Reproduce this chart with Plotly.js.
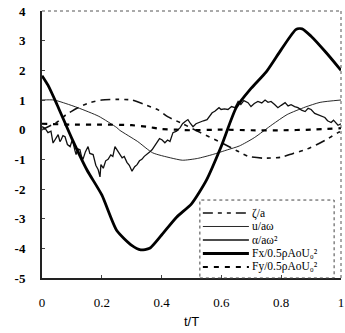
<!DOCTYPE html>
<html>
<head>
<meta charset="utf-8">
<script src="https://cdn.plot.ly/plotly-3.0.1.min.js"></script>
<style>html,body{margin:0;padding:0;background:#fff;}#chart{width:345px;height:333px;}</style>
</head>
<body>
<div id="chart"></div>
<script>
// zeta / a  (dash-dot)
var zetaT = [0, 0.05, 0.08, 0.12, 0.16, 0.2, 0.25, 0.3, 0.35, 0.39, 0.42, 0.47, 0.53, 0.6, 0.65, 0.69, 0.74, 0.8, 0.84, 0.88, 0.92, 0.95, 0.99, 1.0];
var zetaV = [0.0, 0.25, 0.5, 0.74, 0.91, 1.0, 1.02, 1.0, 0.82, 0.66, 0.44, 0.2, -0.1, -0.44, -0.7, -0.9, -0.96, -0.93, -0.8, -0.68, -0.5, -0.34, -0.1, -0.05];
// u / a omega (thin)
var uT = [0, 0.04, 0.08, 0.12, 0.19, 0.25, 0.26, 0.32, 0.37, 0.43, 0.47, 0.52, 0.57, 0.62, 0.66, 0.71, 0.77, 0.82, 0.88, 0.93, 1.0];
var uV = [1.0, 1.0, 0.88, 0.74, 0.45, 0.07, -0.02, -0.4, -0.78, -0.95, -1.03, -0.97, -0.84, -0.68, -0.55, -0.27, 0.17, 0.51, 0.76, 0.92, 1.0];
// alpha / a omega^2 (noisy thin)
var alphaT = [0, 0.01, 0.02, 0.03, 0.037, 0.045, 0.054, 0.06, 0.064, 0.07, 0.077, 0.085, 0.094, 0.1, 0.104, 0.11, 0.114, 0.12, 0.127, 0.132, 0.137, 0.145, 0.154, 0.16, 0.171, 0.18, 0.188, 0.194, 0.197, 0.205, 0.213, 0.221, 0.23, 0.237, 0.244, 0.252, 0.261, 0.268, 0.275, 0.284, 0.292, 0.301, 0.31, 0.318, 0.326, 0.334, 0.342, 0.351, 0.36, 0.368, 0.376, 0.385, 0.393, 0.401, 0.411, 0.42, 0.428, 0.438, 0.45, 0.462, 0.47, 0.478, 0.488, 0.497, 0.505, 0.515, 0.528, 0.54, 0.552, 0.56, 0.569, 0.578, 0.585, 0.592, 0.599, 0.61, 0.622, 0.634, 0.645, 0.656, 0.665, 0.675, 0.689, 0.699, 0.71, 0.722, 0.735, 0.746, 0.756, 0.766, 0.778, 0.789, 0.8, 0.813, 0.823, 0.833, 0.845, 0.856, 0.868, 0.88, 0.89, 0.9, 0.912, 0.923, 0.935, 0.946, 0.955, 0.967, 0.975, 0.98, 0.99, 1.0];
var alphaV = [0.1, 0.05, -0.1, -0.05, -0.45, -0.3, -0.17, -0.4, -0.34, -0.2, -0.24, -0.5, -0.57, -0.38, -0.44, -0.7, -0.84, -0.65, -0.68, -0.9, -1.0, -0.75, -0.57, -0.8, -0.84, -1.2, -1.35, -1.59, -1.18, -1.3, -1.05, -1.0, -0.85, -0.9, -0.57, -0.7, -0.84, -0.95, -0.9, -1.1, -1.2, -1.4, -1.25, -1.18, -1.05, -1.0, -0.9, -0.84, -0.75, -0.68, -0.55, -0.44, -0.3, -0.34, -0.44, -0.35, -0.4, -0.1, -0.05, 0.07, 0.2, 0.27, 0.34, 0.2, 0.1, 0.2, 0.24, 0.3, 0.34, 0.45, 0.57, 0.62, 0.68, 0.74, 0.68, 0.7, 0.68, 0.78, 0.74, 0.95, 0.85, 0.98, 0.91, 0.78, 0.88, 0.95, 0.9, 1.0, 0.92, 0.95, 0.85, 0.74, 0.82, 0.91, 0.8, 0.84, 0.78, 0.74, 0.66, 0.61, 0.72, 0.68, 0.55, 0.51, 0.45, 0.41, 0.3, 0.24, 0.32, 0.27, 0.15, 0.2];
// Fx / 0.5 rho A U0^2 (thick)
var fxT = [0, 0.02, 0.05, 0.1, 0.15, 0.2, 0.25, 0.3, 0.33, 0.36, 0.4, 0.45, 0.5, 0.55, 0.6, 0.65, 0.7, 0.75, 0.8, 0.85, 0.87, 0.9, 0.95, 1.0];
var fxV = [1.82, 1.5, 0.85, -0.3, -1.35, -2.2, -3.4, -3.9, -4.05, -4.0, -3.55, -2.95, -2.5, -1.7, -0.55, 0.75, 1.4, 1.95, 2.7, 3.38, 3.4, 3.15, 2.6, 2.0];
// Fy / 0.5 rho A U0^2 (dashed)
var fyT = [0, 0.1, 0.2, 0.3, 0.35, 0.4, 0.45, 0.5, 0.6, 0.7, 0.8, 0.9, 1.0];
var fyV = [0.2, 0.17, 0.17, 0.15, 0.1, 0.02, 0.0, -0.02, 0.0, -0.02, -0.02, 0.0, 0.05];

var xTicks = [0, 0.2, 0.4, 0.6, 0.8, 1];
var xTickText = ['0', '0.2', '0.4', '0.6', '0.8', '1'];
var yTicks = [-5, -4, -3, -2, -1, 0, 1, 2, 3, 4];
var yTickText = ['-5', '-4', '-3', '-2', '-1', '0', '1', '2', '3', '4'];

var names = ['ζ/a', 'u/aω', 'α/aω²', 'Fx/0.5ρAoU₀²', 'Fy/0.5ρAoU₀²'];
var ser = [[zetaT, zetaV], [uT, uV], [alphaT, alphaV], [fxT, fxV], [fyT, fyV]];
var styles = [
  {color: '#111', width: 1.6, dash: '10px,5px,4px,5px,4px,5px'},
  {color: '#111', width: 0.9, dash: 'solid'},
  {color: '#111', width: 1.3, dash: 'solid'},
  {color: '#000', width: 2.8, dash: 'solid'},
  {color: '#000', width: 2.2, dash: '5px,6px'}
];
var smooth = [true, true, false, true, true];
var data = ser.map(function (s, i) {
  var ln = Object.assign({}, styles[i]);
  if (smooth[i]) { ln.shape = 'spline'; ln.smoothing = 0.6; }
  return {x: s[0], y: s[1], name: names[i], type: 'scatter', mode: 'lines', line: ln, showlegend: false};
});

// hand-built legend (tight row spacing like the reference)
var legRowY = [0.2434, 0.1929, 0.1423, 0.0918, 0.0412];
var shapes = [
  {type: 'line', xref: 'paper', yref: 'paper', x0: 0, x1: 1, y0: 1, y1: 1, line: {color: '#555', width: 1, dash: 'dot'}},
  {type: 'line', xref: 'paper', yref: 'paper', x0: 1, x1: 1, y0: 0, y1: 1, line: {color: '#555', width: 1, dash: 'dot'}},
  {type: 'rect', xref: 'paper', yref: 'paper', x0: 0.528, x1: 0.977, y0: 0, y1: 0.292, line: {color: '#444', width: 1, dash: 'dot'}}
];
var annotations = [];
names.forEach(function (n, i) {
  shapes.push({type: 'line', xref: 'paper', yref: 'paper', x0: 0.538, x1: 0.692, y0: legRowY[i], y1: legRowY[i], line: styles[i]});
  annotations.push({xref: 'paper', yref: 'paper', x: 0.700, y: legRowY[i], xanchor: 'left', yanchor: 'middle',
    text: n, showarrow: false, borderpad: 0, font: {family: 'Liberation Serif', size: 11.5, color: '#000'}});
});

var layout = {
  width: 345, height: 333,
  margin: {l: 42, r: 4, t: 11, b: 55},
  paper_bgcolor: '#fff', plot_bgcolor: '#fff',
  showlegend: false,
  xaxis: {
    range: [0, 1], tickvals: xTicks, ticktext: xTickText,
    showgrid: false, zeroline: false, showline: true, linecolor: '#222', linewidth: 1.5,
    ticks: 'inside', ticklen: 3, tickcolor: '#444', ticklabelstandoff: 12,
    tickfont: {family: 'Liberation Serif', size: 13, color: '#000'},
    title: {text: 't/T', font: {family: 'Liberation Sans', size: 13, color: '#000'}, standoff: 8}
  },
  yaxis: {
    range: [-5, 4], tickvals: yTicks, ticktext: yTickText.map(function (t) { return '<b>' + t + '</b>'; }),
    showgrid: false, zeroline: false, showline: true, linecolor: '#222', linewidth: 2,
    ticks: 'inside', ticklen: 3, tickcolor: '#444', ticklabelstandoff: 12,
    tickfont: {family: 'Liberation Serif', size: 13, color: '#000'}
  },
  shapes: shapes,
  annotations: annotations
};
Plotly.newPlot('chart', data, layout, {displayModeBar: false, staticPlot: true});
</script>
</body>
</html>
